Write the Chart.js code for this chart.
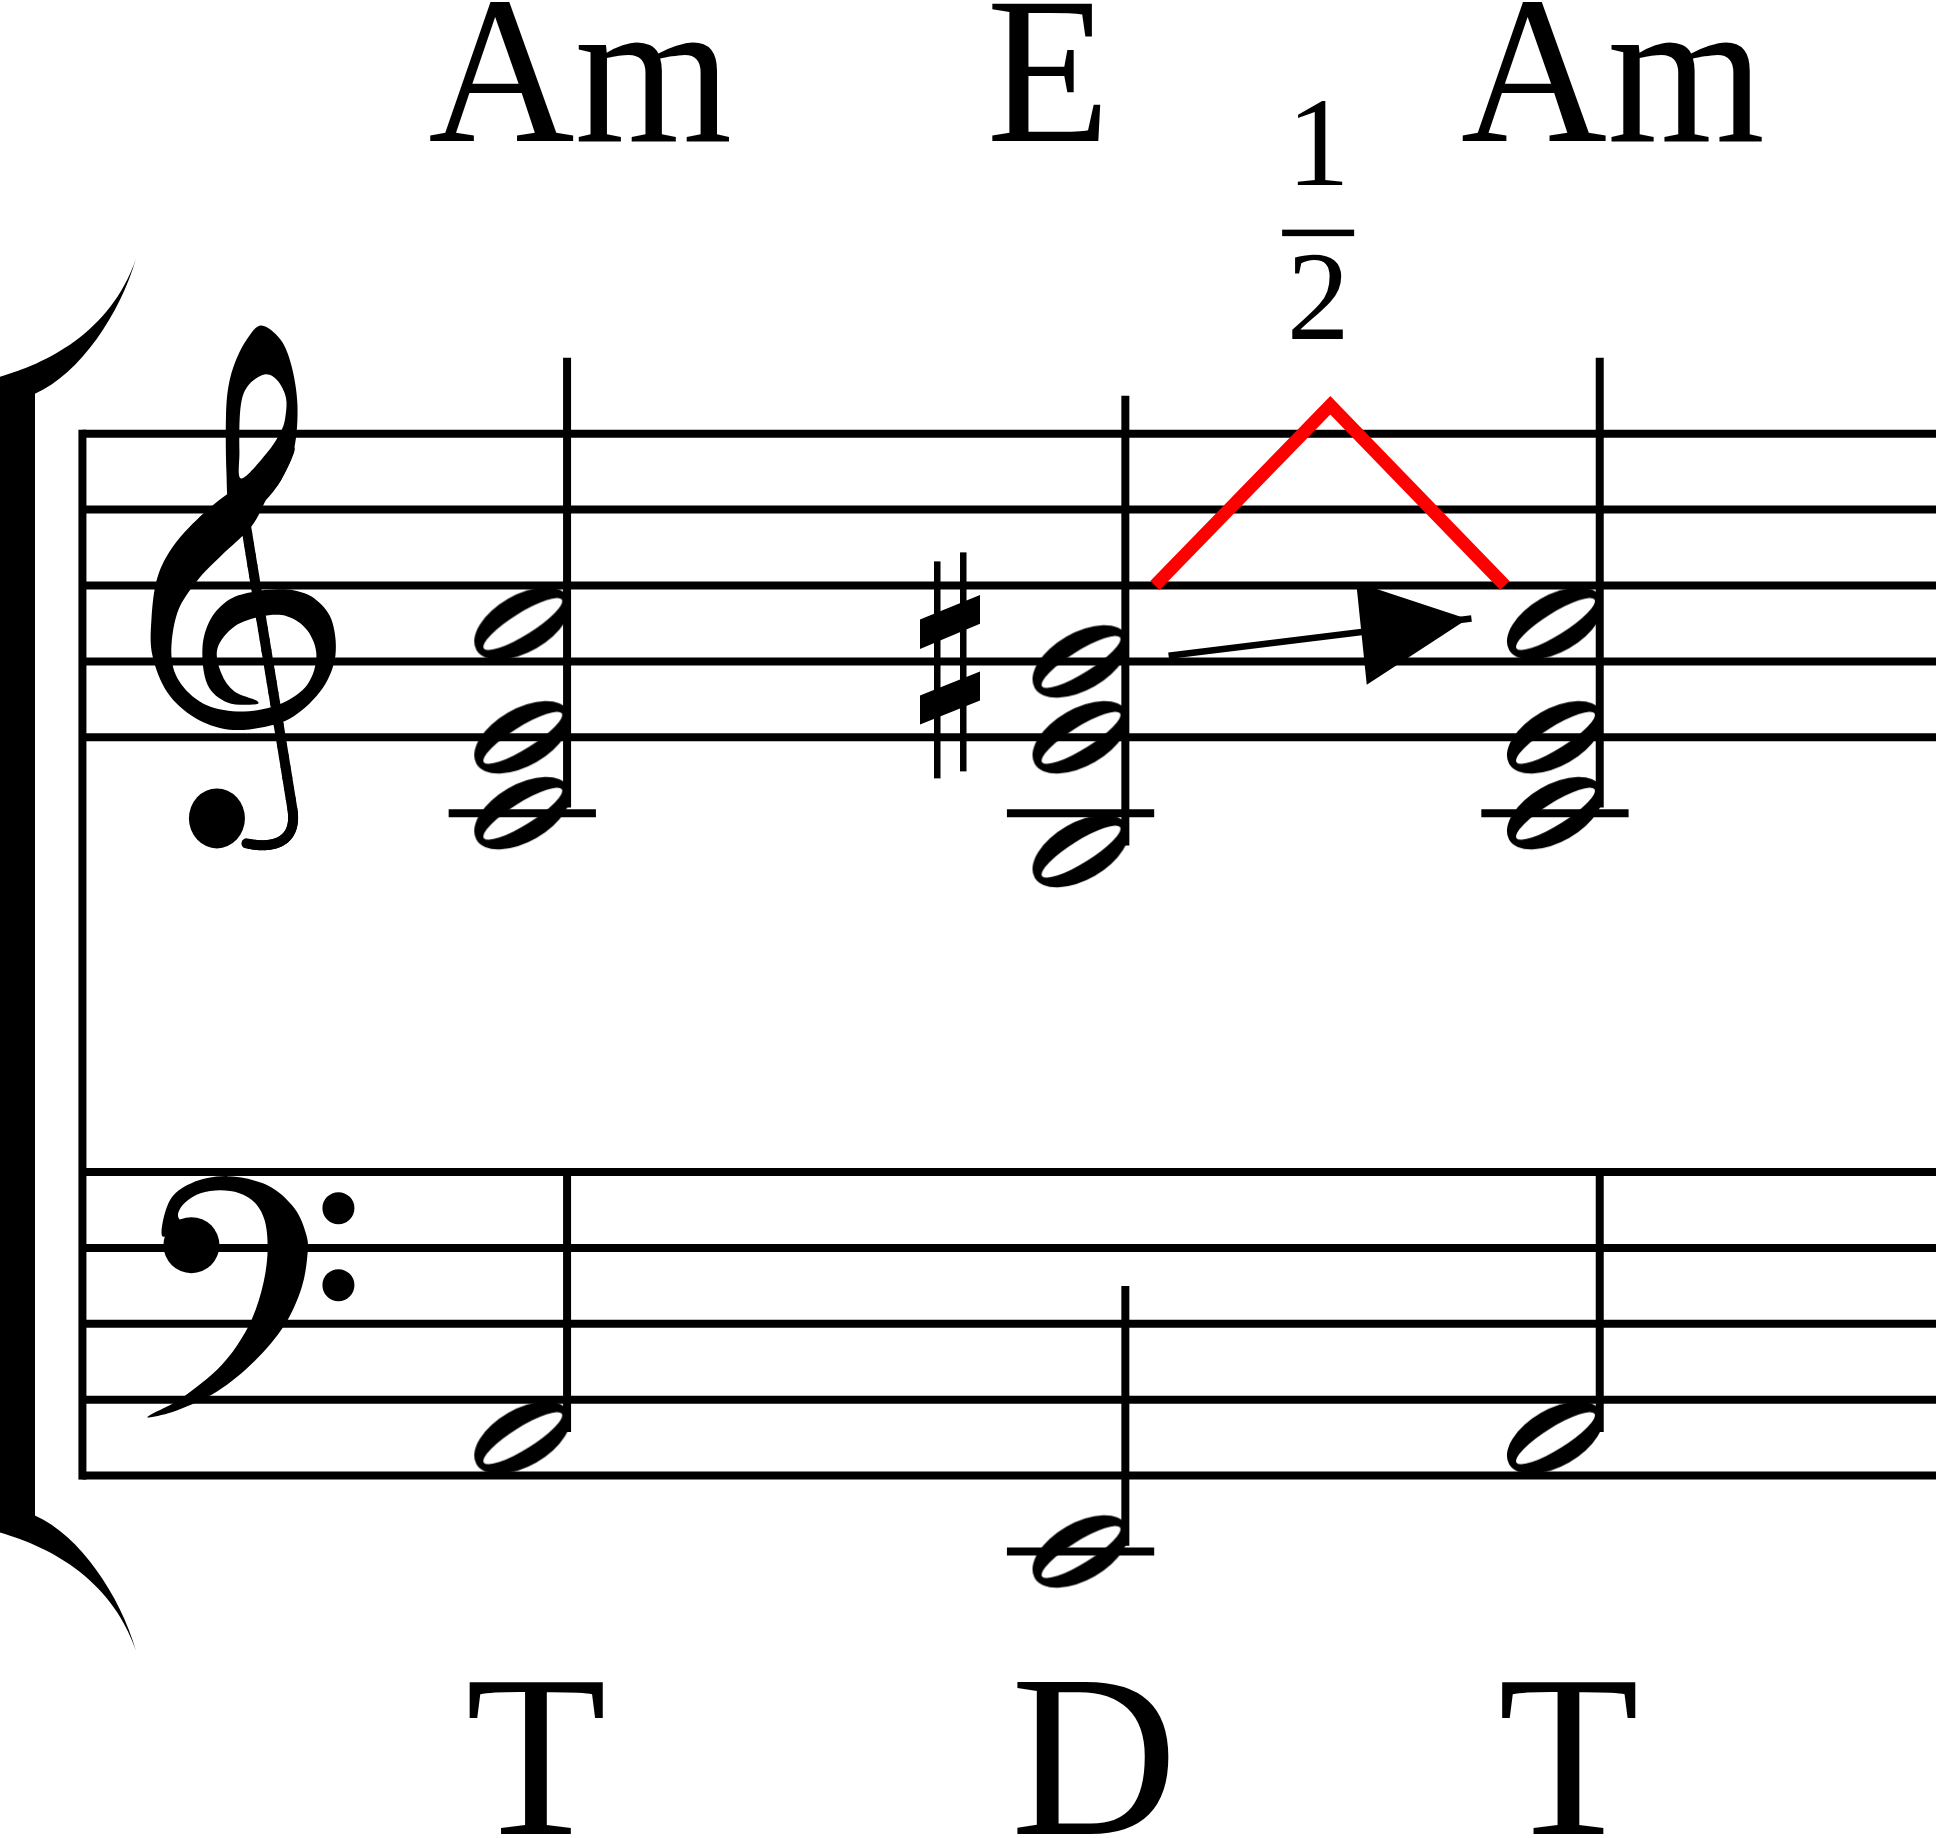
<!DOCTYPE html>
<html>
<head>
<meta charset="utf-8">
<script src="https://cdn.jsdelivr.net/npm/chart.js@4.4.1/dist/chart.umd.min.js"></script>
<style>
html,body{margin:0;padding:0;background:#fff;}
#marco{width:1941px;height:1838px;position:relative;}
</style>
</head>
<body>
<div id="marco"><canvas id="partitura"></canvas></div>
<script>
// acordes y funciones armonicas
const acordes = ["Am", "E", "Am"];
const funciones = ["T", "D", "T"];
const posAcordes = [6.815, 14.17, 20.42]; // en espacios de pentagrama

// notas en pasos diatonicos (Do4 = 0)
const notasSol = [[0, 2, 5], [-1, 2, 4], [0, 2, 5]];
const notasFa = [[-9], [-12], [-9]];
const sostenidos = [[], [4], []];

const lineasSol = [2, 4, 6, 8, 10];
const lineasFa = [-10, -8, -6, -4, -2];
const inicioPentagrama = 1.02;
const finPentagrama = 25.44;

// movimiento de la voz (rojo), flecha y fraccion
const lineaRoja = [{x: 15.15, y: 6}, {x: 17.46, y: 10.75}, {x: 19.76, y: 6}];
const flecha = [{x: 15.33, y: 4.15}, {x: 19.32, y: 5.13}];
const fraccion = ["1", "2"];
const posFraccion = 17.3;

const negro = "#000";
const grosor = 8;

// cabeza de blanca
const cabeza = document.createElement("canvas");
cabeza.width = 112;
cabeza.height = 82;
const cc = cabeza.getContext("2d");
cc.translate(56, 41);
cc.fillStyle = negro;
cc.beginPath();
cc.ellipse(0, 0, 53, 28.5, -30 * Math.PI / 180, 0, 2 * Math.PI);
cc.fill();
cc.globalCompositeOperation = "destination-out";
cc.beginPath();
cc.ellipse(0.5, 0.5, 46, 11, -32 * Math.PI / 180, 0, 2 * Math.PI);
cc.fill();

function linea(datos, eje, ancho, color){
return {data: datos, yAxisID: eje, showLine: true, borderColor: color || negro, borderWidth: ancho,
pointRadius: 0, borderCapStyle: "butt", borderJoinStyle: "miter"};
}

const datasets = [];
datasets.push(linea(lineaRoja, "yT", 13, "#ff0000"));
datasets.push(linea(flecha, "yT", 6.5));

const cabezasSol = [];
const cabezasFa = [];
notasSol.forEach((n, i) => n.forEach(s => cabezasSol.push({x: posAcordes[i], y: s})));
notasFa.forEach((n, i) => n.forEach(s => cabezasFa.push({x: posAcordes[i], y: s})));
datasets.push({data: cabezasSol, yAxisID: "yT", pointStyle: cabeza, showLine: false});
datasets.push({data: cabezasFa, yAxisID: "yB", pointStyle: cabeza, showLine: false});

// plicas
function plicas(notas, eje){
notas.forEach((n, i) => {
const xp = posAcordes[i] + 0.59;
const bajo = Math.min(...n), alto = Math.max(...n);
datasets.push(linea([{x: xp, y: bajo + 0.15}, {x: xp, y: alto + 7}], eje, grosor));
});
}
plicas(notasSol, "yT");
plicas(notasFa, "yB");

// lineas adicionales
function adicionales(notas, eje, lineaInferior){
notas.forEach((n, i) => {
const bajo = Math.min(...n);
for(let l = lineaInferior - 2; l >= bajo; l -= 2){
datasets.push(linea([{x: posAcordes[i] - 0.97, y: l}, {x: posAcordes[i] + 0.97, y: l}], eje, grosor));
}
});
}
adicionales(notasSol, "yT", 2);
adicionales(notasFa, "yB", -10);

lineasSol.forEach(s => datasets.push(linea([{x: inicioPentagrama, y: s}, {x: finPentagrama, y: s}], "yT", grosor)));
lineasFa.forEach(s => datasets.push(linea([{x: inicioPentagrama, y: s}, {x: finPentagrama, y: s}], "yB", grosor)));

// dibujo auxiliar
function bez(p, t){
const u = 1 - t;
return [u*u*u*p[0] + 3*u*u*t*p[2] + 3*u*t*t*p[4] + t*t*t*p[6],
u*u*u*p[1] + 3*u*u*t*p[3] + 3*u*t*t*p[5] + t*t*t*p[7]];
}

function trazo(ctx, p, w){
const N = 30;
let prev = bez(p, 0);
ctx.lineCap = "round";
for(let i = 1; i <= N; i++){
const pt = bez(p, i / N);
const tm = (i - 0.5) / N;
ctx.lineWidth = tm < 0.5 ? w[0] + (w[1] - w[0]) * tm * 2 : w[1] + (w[2] - w[1]) * (tm * 2 - 1);
ctx.beginPath();
ctx.moveTo(prev[0], prev[1]);
ctx.lineTo(pt[0], pt[1]);
ctx.stroke();
prev = pt;
}
}

// curva cerrada suave por los puntos (sin rellenar)
function curva(ctx, pts){
const n = pts.length;
ctx.moveTo(pts[0][0], pts[0][1]);
for(let i = 0; i < n; i++){
const p0 = pts[(i - 1 + n) % n], p1 = pts[i], p2 = pts[(i + 1) % n], p3 = pts[(i + 2) % n];
ctx.bezierCurveTo(p1[0] + (p2[0] - p0[0]) / 6, p1[1] + (p2[1] - p0[1]) / 6,
p2[0] - (p3[0] - p1[0]) / 6, p2[1] - (p3[1] - p1[1]) / 6, p2[0], p2[1]);
}
ctx.closePath();
}

function contorno(ctx, pts){
ctx.beginPath();
curva(ctx, pts);
ctx.fill();
}

function claveSol(ctx){
// lazo superior con hueco
ctx.beginPath();
curva(ctx, [[257,324],[276,338],[287,364],[293,403],[290,446],[277,478],[260,500],[240,515],[225,505],
[222,470],[221.5,417],[224,385],[231,360],[243,337]]);
curva(ctx, [[260,373],[273,379],[281.5,396],[281,415],[276.5,430],[262,452],[237,477],[235,450],[236,407],[243,385]]);
ctx.fill("evenodd");
// trazo diagonal, lazo grande y espiral
contorno(ctx, [[290,446],[277,478],[263,496],[247,525],[217,554],[193,579],[173,611],[167,654],[177,683],
[203,704],[240,710],[277,702],[303,683],[312,654],[303,629],[283,615],[257,615],[230,625],[213,647],
[217,672],[230,690],[252,699],[250,703],[223,701],[203,683],[198,647],[206,618],[225,598],[250,590],
[270,588],[290,589],[310,597],[327,618],[331,654],[318,687],[289,715],[257,726],[223,728],[190,716],
[163,691],[148,654],[147,618],[153,576],[170,543],[200,511],[230,487],[262,462]]);
// plica y gancho
trazo(ctx, [236,490, 253,596, 271,702, 288,808], [10, 10, 10]);
trazo(ctx, [288,808, 293,840, 270,848, 242,842], [10, 10, 10]);
ctx.beginPath();
ctx.ellipse(212.5, 817, 28, 30, 0, 0, 2 * Math.PI);
ctx.fill();
}

function claveFa(ctx){
contorno(ctx, [[158,1238],[165,1203],[187,1185],[223,1178],[263,1187],[290,1210],[302,1237],[303,1257],
[297,1290],[280,1327],[250,1363],[213,1393],[173,1412],[146,1419],[147,1416],[177,1400],[217,1367],
[243,1330],[257,1293],[263,1257],[261,1225],[251,1205],[235,1195],[216,1192],[196,1195],[181,1204],
[174,1214],[175,1221],[182,1224]]);
ctx.beginPath();
ctx.arc(187, 1247, 28, 0, 2 * Math.PI);
ctx.fill();
ctx.beginPath();
ctx.arc(334, 1210, 16, 0, 2 * Math.PI);
ctx.arc(334, 1287, 16, 0, 2 * Math.PI);
ctx.fill();
}

function sostenido(ctx, cx, cy){
ctx.fillRect(cx - 16, cy - 100, 6.5, 217);
ctx.fillRect(cx + 10, cy - 109, 6.5, 219);
[[-42, -66.5, -37.6, -12.5], [34, 10, 39, 63]].forEach(b => {
ctx.beginPath();
ctx.moveTo(cx - 30, cy + b[0]);
ctx.lineTo(cx + 30, cy + b[1]);
ctx.lineTo(cx + 30, cy + b[2]);
ctx.lineTo(cx - 30, cy + b[3]);
ctx.closePath();
ctx.fill();
});
}

const notacion = {
id: "notacion",
afterDatasetsDraw(chart){
const ctx = chart.ctx;
const x = chart.scales.x, yT = chart.scales.yT, yB = chart.scales.yB;
const arriba = yT.getPixelForValue(10), abajo = yB.getPixelForValue(-10);
const xBarra = x.getPixelForValue(inicioPentagrama);
ctx.save();
ctx.fillStyle = negro;
ctx.strokeStyle = negro;

// barra inicial
ctx.fillRect(xBarra - grosor / 2, arriba - grosor / 2, grosor, abajo - arriba + grosor);

// corchete del sistema
ctx.beginPath();
ctx.moveTo(0, arriba - 57);
ctx.bezierCurveTo(45, arriba - 70, 110, arriba - 100, 136, arriba - 175);
ctx.bezierCurveTo(120, arriba - 120, 80, arriba - 60, 35, arriba - 40);
ctx.lineTo(35, abajo + 40);
ctx.bezierCurveTo(80, abajo + 60, 120, abajo + 120, 136, abajo + 175);
ctx.bezierCurveTo(110, abajo + 100, 45, abajo + 70, 0, abajo + 57);
ctx.closePath();
ctx.fill();

// claves
ctx.save();
ctx.translate(xBarra - 78, yT.getPixelForValue(4) - 660);
claveSol(ctx);
ctx.restore();
ctx.save();
ctx.translate(xBarra - 78, yB.getPixelForValue(-4) - 1249.8);
claveFa(ctx);
ctx.restore();

// alteraciones
sostenidos.forEach((lista, i) => lista.forEach(s => {
sostenido(ctx, x.getPixelForValue(posAcordes[i] - 1.72), yT.getPixelForValue(s));
}));

// punta de flecha
const a = flecha[flecha.length - 2], b = flecha[flecha.length - 1];
const ax = x.getPixelForValue(a.x), ay = yT.getPixelForValue(a.y);
const bx = x.getPixelForValue(b.x), by = yT.getPixelForValue(b.y);
const len = Math.hypot(bx - ax, by - ay);
const dx = (bx - ax) / len, dy = (by - ay) / len;
ctx.beginPath();
ctx.moveTo(bx - dx * 4, by - dy * 4);
ctx.lineTo(bx - dx * 112 - dy * 53, by - dy * 112 + dx * 53);
ctx.lineTo(bx - dx * 110 + dy * 50, by - dy * 110 - dx * 50);
ctx.closePath();
ctx.fill();

// textos
ctx.font = '209px "Liberation Serif"';
ctx.textAlign = "left";
ctx.textBaseline = "alphabetic";
acordes.forEach((t, i) => {
ctx.save();
ctx.translate(x.getPixelForValue(posAcordes[i] - 1.24), yT.getPixelForValue(17.72));
ctx.scale(0.97, 1);
ctx.fillText(t, 0, 0);
ctx.restore();
});
ctx.font = '231px "Liberation Serif"';
ctx.textAlign = "center";
funciones.forEach((t, i) => ctx.fillText(t, x.getPixelForValue(posAcordes[i] + 0.18), yB.getPixelForValue(-19.45)));

const fx = x.getPixelForValue(posFraccion);
ctx.font = '126px "Liberation Serif"';
ctx.fillText(fraccion[0], fx, yT.getPixelForValue(16.55));
ctx.fillRect(fx - 36, yT.getPixelForValue(15.3) - 3, 72, 6.5);
ctx.fillText(fraccion[1], fx, yT.getPixelForValue(12.5));
ctx.restore();
}
};

new Chart(document.getElementById("partitura"), {
type: "scatter",
data: {datasets: datasets},
options: {
responsive: true,
maintainAspectRatio: false,
animation: false,
events: [],
layout: {padding: 0},
plugins: {legend: {display: false}, tooltip: {enabled: false}, title: {display: false}},
scales: {
x: {type: "linear", min: 0, max: finPentagrama, display: false},
yT: {type: "linear", min: -26.88, max: 21.30, display: false},
yB: {type: "linear", min: -19.42, max: 28.76, display: false}
}
},
plugins: [notacion]
});
</script>
</body>
</html>
